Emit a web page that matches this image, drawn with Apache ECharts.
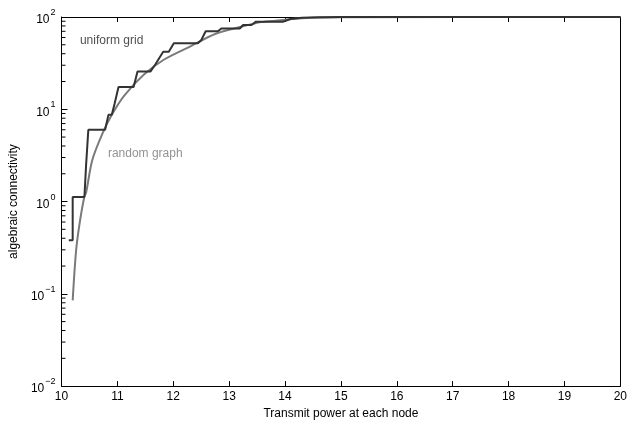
<!DOCTYPE html>
<html>
<head>
<meta charset="utf-8">
<script src="https://cdn.jsdelivr.net/npm/echarts@6/dist/echarts.min.js"></script>
<style>
  html, body { margin: 0; padding: 0; background: #fff; }
  #chart { width: 630px; height: 425px; }
</style>
</head>
<body>
<div id="chart"></div>
<script>
// uniform grid (step curve)
const gridX = [10.13, 10.2, 10.2, 10.41, 10.44, 10.47, 10.48, 10.78, 10.84, 10.9, 10.95, 11.02, 11.29, 11.36, 11.59, 11.67, 11.75, 11.82, 11.92, 12.01, 12.44, 12.5, 12.58, 12.8, 12.86, 13.19, 13.25, 13.4, 13.48, 13.97, 14.1, 14.3, 14.6, 15, 20]
const gridY = [0.38, 0.38, 1.12, 1.12, 2.5, 2.5, 6.0, 6.0, 8.7, 8.7, 11.5, 17.4, 17.4, 25.6, 25.6, 30, 36, 42, 42, 52, 52, 56, 70, 70, 75, 75, 82, 82, 89, 89, 95, 98, 99.5, 100, 100]

// random graph (smooth curve)
const randX = [10.2, 10.26, 10.32, 10.41, 10.44, 10.55, 10.73, 10.9, 11.13, 11.48, 11.83, 12.29, 12.76, 13.22, 13.57, 13.92, 14.18, 14.5, 15, 20]
const randY = [0.085, 0.29, 0.56, 1.14, 1.25, 2.8, 5.4, 8.7, 14.2, 23.9, 34.4, 47.5, 65.8, 78.5, 88, 92, 96, 98, 99.6, 100]

const xTicks = [10, 11, 12, 13, 14, 15, 16, 17, 18, 19, 20]
const minorVals = []
for (let d = -2; d < 2; d++) {
  for (let m = 2; m <= 9; m++) minorVals.push(m * Math.pow(10, d))
}

const pairs = (xs, ys) => xs.map((x, i) => [x, ys[i]])

const chart = echarts.init(document.getElementById('chart'))
const font = 'Liberation Sans, Arial, sans-serif'
chart.setOption({
  animation: false,
  grid: { left: 55, right: 4, top: 17, bottom: 28 },
  xAxis: [
    {
      type: 'value',
      min: xTicks[0],
      max: xTicks[xTicks.length - 1],
      interval: 1,
      name: 'Transmit power at each node',
      nameLocation: 'middle',
      nameGap: 20,
      nameTextStyle: { color: '#000', fontFamily: font, fontSize: 12 },
      axisLine: { lineStyle: { color: '#000', width: 1 } },
      axisTick: { inside: true, length: 5, lineStyle: { color: '#000' } },
      axisLabel: { color: '#000', fontFamily: font, fontSize: 12, margin: 5 },
      splitLine: { show: false }
    },
    {
      type: 'value',
      position: 'top',
      min: xTicks[0],
      max: xTicks[xTicks.length - 1],
      interval: 1,
      axisLine: { lineStyle: { color: '#000', width: 1 } },
      axisTick: { inside: true, length: 5, lineStyle: { color: '#000' } },
      axisLabel: { show: false },
      splitLine: { show: false }
    }
  ],
  yAxis: [
    {
      type: 'log',
      logBase: 10,
      min: 0.01,
      max: 100,
      name: 'algebraic connectivity',
      nameLocation: 'middle',
      nameGap: 38,
      nameTextStyle: { color: '#000', fontFamily: font, fontSize: 12 },
      axisLine: { lineStyle: { color: '#000', width: 1 } },
      axisTick: { inside: true, length: 6, lineStyle: { color: '#000' } },
      axisLabel: {
        margin: 6,
        formatter: function (v) {
          const e = Math.round(Math.log10(v))
          return '{b|10}{s|' + (e < 0 ? '\u2212' + (-e) : e) + '}'
        },
        rich: {
          b: { fontFamily: font, fontSize: 12, color: '#000', lineHeight: 18, verticalAlign: 'bottom' },
          s: { fontFamily: font, fontSize: 9, color: '#000', lineHeight: 18, verticalAlign: 'top', padding: [0, 0, 0, 1] }
        }
      },
      splitLine: { show: false }
    },
    {
      type: 'log',
      logBase: 10,
      min: 0.01,
      max: 100,
      position: 'right',
      axisLine: { lineStyle: { color: '#000', width: 1 } },
      axisTick: { show: false },
      axisLabel: { show: false },
      splitLine: { show: false }
    }
  ],
  series: [
    {
      name: 'random graph',
      type: 'line',
      smooth: 0.3,
      showSymbol: false,
      data: pairs(randX, randY),
      lineStyle: { color: '#7a7a7a', width: 2 }
    },
    {
      name: 'uniform grid',
      type: 'line',
      showSymbol: false,
      data: pairs(gridX, gridY),
      lineStyle: { color: '#333', width: 2 }
    },
    {
      // minor log ticks on the left axis
      type: 'custom',
      silent: true,
      clip: false,
      data: minorVals.map(v => [10, v]),
      renderItem: function (params, api) {
        const p = api.coord([api.value(0), api.value(1)])
        return {
          type: 'line',
          shape: { x1: p[0], y1: p[1], x2: p[0] + 4, y2: p[1] },
          style: { stroke: '#000', lineWidth: 1 }
        }
      }
    },
    {
      // text labels
      type: 'scatter',
      silent: true,
      symbolSize: 0,
      data: [
        { value: [10.33, 55], label: { formatter: 'uniform grid', color: '#222' } },
        { value: [10.83, 3.3], label: { formatter: 'random graph', color: '#777' } }
      ],
      label: { show: true, position: 'right', distance: 0, fontFamily: font, fontSize: 12 }
    }
  ]
})
</script>
</body>
</html>
